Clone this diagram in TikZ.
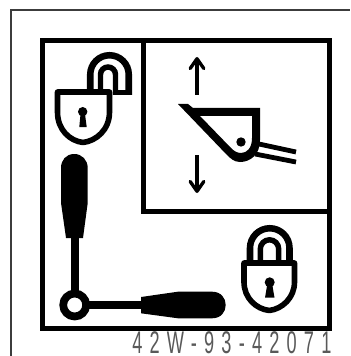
\documentclass[tikz,border=0pt]{standalone}
\usepackage{fontspec}
\setmainfont{Liberation Sans}
\newfontfamily\partfont[FakeStretch=0.58,LetterSpace=23]{Liberation Sans}
\usepackage{tikz}
\usetikzlibrary{arrows.meta,positioning}
\definecolor{framegray}{RGB}{60,60,60}
\tikzset{
  panel/.style={draw=black, line width=3.75pt, line join=miter},
  outline/.style={draw=framegray, line width=0.9pt},
  lockbody/.style={draw=black, line width=4.2pt, line join=round},
  bigarch/.style={draw=black, line width=4.9pt},
  smallarch/.style={draw=black, line width=4.1pt},
  thinstroke/.style={draw=black, line width=3.6pt},
  stick/.style={draw=black, line width=6pt},
  updown/.style={draw=black, line width=2.5pt, -{Straight Barb[round,length=2.6mm,width=3.6mm]}},
  partno/.style={font=\partfont\fontsize{23.5}{23.5}\selectfont, inner sep=0pt, text=black!65}
}
\begin{document}
\begin{tikzpicture}[x=0.75pt, y=-0.75pt]
\useasboundingbox (0,0) rectangle (350,356);
% Outer thin frame and panels
\draw[outline] (11,356) -- (11,10) -- (350,10);
\draw[panel] (42.5,40.5) rectangle (329.5,328.5);
\draw[panel] (329.5,211.5) -- (143.5,211.5) -- (143.5,40.5);
% Open padlock, top left
\draw[bigarch] (90.25,92) -- (90.25,74.5) arc[start angle=180, end angle=360, radius=19.25] -- (128.75,95);
\fill (115,90) rectangle (132,95);
\draw[smallarch] (100.5,92) -- (100.5,74.5) arc[start angle=180, end angle=360, radius=7.5] -- (115.5,95);
\draw[lockbody, fill=white] (57.5,92) -- (109.5,92) -- (109.5,112) .. controls (109.5,130) and (96,141) .. (83,142.5) .. controls (70,141) and (57.5,130) .. (57.5,112) -- cycle;
\fill (82.7,111.7) circle (4.7);
\fill (80.7,112) -- (84.7,112) -- (86.7,127) -- (79.3,127) -- cycle;
% Arrows and latch
\draw[updown] (197,95) -- (197,57);
\draw[updown] (197,155) -- (197,193);
\fill[even odd rule] (178,104) -- (188,104) -- (193,108) -- (260,108) -- (260,140) .. controls (260,155) and (250,162) .. (240,162) .. controls (234,162) and (230,158) .. (227,155) -- cycle
  (200,116) -- (252,116) -- (252,138) .. controls (252,148) and (247,153) .. (241,153) .. controls (237,153) and (234,151) .. (231,148) -- cycle;
\fill (241,142) circle (4.7);
\draw[thinstroke] (259,144) -- (296,152);
\draw[thinstroke] (255,154) -- (296,162);
% Lever
\fill (61,168) .. controls (61,160) and (66,154) .. (74.3,154) .. controls (82,154) and (87.7,160) .. (87.7,168) -- (87.7,203) -- (83,238) -- (66,238) -- (61,203) -- cycle;
\draw[stick] (74.8,237) -- (74.8,292);
\draw[draw=black, line width=5.8pt] (74.7,305) circle (11.5);
\draw[stick] (88,305) -- (145,305);
\fill (141,297) -- (178,291.7) -- (212,291.7) .. controls (221,291.7) and (225.7,298) .. (225.7,305) .. controls (225.7,312) and (221,318.3) .. (212,318.3) -- (178,318.3) -- (141,313.3) -- cycle;
% Closed padlock, bottom right
\draw[bigarch] (250,262) -- (250,248) arc[start angle=180, end angle=360, radius=19.75] -- (289.5,262);
\draw[smallarch] (260.3,262) -- (260.3,249) arc[start angle=180, end angle=360, radius=9.2] -- (278.7,262);
\draw[lockbody, fill=white] (244,263) -- (294.5,263) -- (294.5,282) .. controls (294.5,298) and (282,309) .. (269.3,310.5) .. controls (256,309) and (244,298) .. (244,282) -- cycle;
\fill (269.7,282.3) circle (5);
\fill (267.5,283) -- (272,283) -- (274.5,297.7) -- (265,297.7) -- cycle;
% Part number
\node[partno, anchor=base west] (partlabel) at (132,353.5) {42W-93-42071};
\end{tikzpicture}
\end{document}
